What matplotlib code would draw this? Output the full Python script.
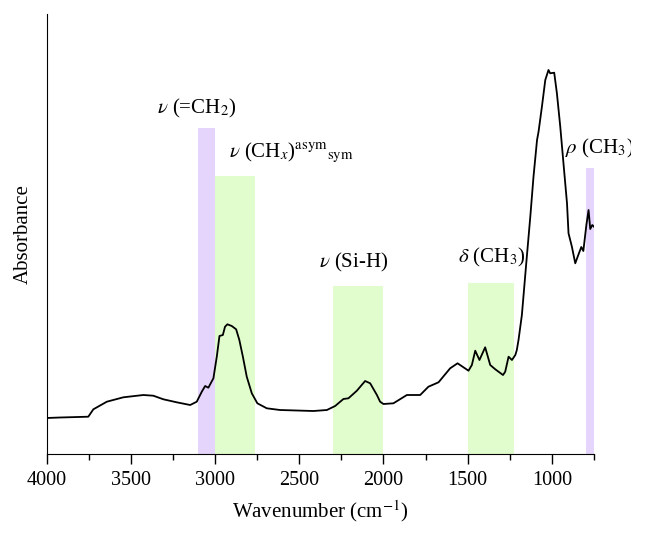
import matplotlib
matplotlib.use('Agg')
import matplotlib.pyplot as plt
from matplotlib.transforms import Bbox

plt.rcParams['font.family'] = ['Liberation Serif', 'DejaVu Serif']
plt.rcParams['mathtext.fontset'] = 'stix'

# FTIR spectrum (wavenumber in cm-1, absorbance in a.u.)
wavenumber = [4000, 3921, 3753, 3723, 3643, 3545, 3426, 3367, 3307, 3228,
              3148, 3109, 3079, 3059, 3040, 3010, 2990, 2974, 2954, 2941,
              2927, 2901, 2875, 2856, 2835, 2812, 2782, 2749, 2693, 2614,
              2416, 2336, 2287, 2238, 2208, 2158, 2109, 2079, 2039, 2020,
              2000, 1941, 1861, 1782, 1733, 1673, 1604, 1560, 1495, 1475,
              1455, 1430, 1396, 1366, 1336, 1290, 1277, 1257, 1237, 1217,
              1208, 1198, 1178, 1152, 1128, 1109, 1088, 1079, 1059, 1039,
              1020, 1010, 986, 970, 950, 931, 910, 901, 881, 861,
              843, 825, 813, 795, 782, 772, 760, 748]
absorbance = [0.36, 0.365, 0.373, 0.447, 0.523, 0.567, 0.59, 0.583, 0.547, 0.517,
              0.49, 0.523, 0.623, 0.68, 0.663, 0.757, 0.973, 1.18, 1.19, 1.273,
              1.297, 1.28, 1.247, 1.14, 0.973, 0.773, 0.607, 0.507, 0.457, 0.44,
              0.43, 0.44, 0.48, 0.55, 0.557, 0.633, 0.73, 0.707, 0.59, 0.523,
              0.50, 0.507, 0.59, 0.59, 0.673, 0.717, 0.857, 0.907, 0.833, 0.89,
              1.033, 0.94, 1.067, 0.89, 0.847, 0.79, 0.823, 0.973, 0.94, 0.99,
              1.04, 1.14, 1.39, 1.907, 2.373, 2.773, 3.14, 3.223, 3.473, 3.74,
              3.84, 3.807, 3.813, 3.607, 3.273, 2.907, 2.507, 2.207, 2.073, 1.907,
              1.99, 2.07, 2.03, 2.29, 2.44, 2.25, 2.29, 2.27]

# highlighted assignment regions
band_hi = [3100, 3000, 2300, 1500, 800]
band_lo = [3000, 2765, 2000, 1225, 750]
band_top = [3.26, 2.78, 1.68, 1.71, 2.86]
band_colors = ['#e5d4fb', '#e1fccd', '#e1fccd', '#e1fccd', '#e5d4fb']

labels = [r'$\nu$ (=CH$_2$)',
          r'$\nu$ (CH$_x$)$^{\mathrm{asym}}{}_{\mathrm{sym}}$',
          r'$\nu$ (Si-H)',
          r'$\delta$ (CH$_3$)',
          r'$\rho$ (CH$_3$)']
label_x = [3345, 2915, 2380, 1560, 920]
label_y = [3.41, 2.97, 1.87, 1.92, 3.01]

fig = plt.figure(figsize=(6.47, 5.34), dpi=100)
ax = fig.add_axes([0.0722, 0.1498, 0.8458, 0.824])

centers = [(h + l) / 2 for h, l in zip(band_hi, band_lo)]
widths = [h - l for h, l in zip(band_hi, band_lo)]
ax.bar(centers, band_top, width=widths, color=band_colors, zorder=1)

ax.plot(wavenumber, absorbance, color='black', linewidth=1.3, zorder=3)

# the original figure is cropped just through the last bracket of rho (CH3)
crop = Bbox([[0, 0], [631, 534]])
for txt, x, y in zip(labels, label_x, label_y):
    t = ax.text(x, y, txt, fontsize=15, ha='left', va='baseline', zorder=4)
    t.set_clip_box(crop)
    t.set_clip_on(True)

ax.set_xlim(4000, 750)
ax.set_ylim(0, 4.4)
ax.set_xticks([4000, 3500, 3000, 2500, 2000, 1500, 1000])
ax.set_xticks([3750, 3250, 2750, 2250, 1750, 1250, 750], minor=True)
ax.tick_params(axis='x', which='major', direction='out', length=7, width=1, labelsize=14.5, pad=5)
ax.tick_params(axis='x', which='minor', direction='out', length=4, width=1)
ax.set_yticks([])

ax.spines['top'].set_visible(False)
ax.spines['right'].set_visible(False)

ax.set_xlabel('Wavenumber (cm$^{-1}$)', fontsize=15, labelpad=6)
ax.set_ylabel('Absorbance', fontsize=15, labelpad=10)

fig.savefig('out.png', dpi=100)
